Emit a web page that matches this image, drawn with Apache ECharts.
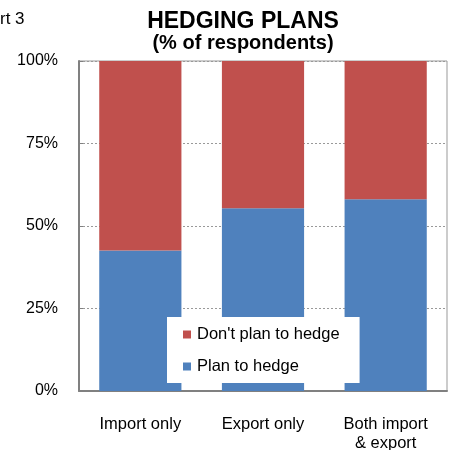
<!DOCTYPE html>
<html>
<head>
<meta charset="utf-8">
<script src="https://cdn.jsdelivr.net/npm/echarts@6/dist/echarts.min.js"></script>
<style>
  html, body { margin: 0; padding: 0; background: #fff; }
  #chart { width: 450px; height: 450px; }
</style>
</head>
<body>
<div id="chart"></div>
<script>
// Hedging plans by trader type, % of respondents
const categories = ['Import only', 'Export only', 'Both import\n& export'];
const planToHedge = [42.6, 55.4, 58.1];
const dontPlanToHedge = [57.4, 44.6, 41.9];
const yTicks = [0, 25, 50, 75, 100];

const font = 'Liberation Sans, Arial, sans-serif';

const chart = echarts.init(document.getElementById('chart'));
chart.setOption({
  animation: false,
  backgroundColor: '#ffffff',
  graphic: [
    { type: 'text', left: 0, top: 11, style: { text: 'rt 3', font: '17px ' + font, fill: '#000' } }
  ],
  title: {
    text: 'HEDGING PLANS',
    subtext: '(% of respondents)',
    left: 238,
    textAlign: 'center',
    top: 5,
    itemGap: 0,
    textStyle: { fontFamily: font, fontWeight: 'bold', fontSize: 23, color: '#000' },
    subtextStyle: { fontFamily: font, fontWeight: 'bold', fontSize: 20, color: '#000' }
  },
  legend: {
    orient: 'vertical',
    left: 167,
    top: 317,
    padding: [9, 20, 8, 16],
    backgroundColor: '#ffffff',
    itemWidth: 8,
    itemHeight: 8,
    itemGap: 15,
    icon: 'rect',
    data: ["Don't plan to hedge", 'Plan to hedge'],
    textStyle: { fontFamily: font, fontSize: 16.5, color: '#000', padding: [0, 0, 0, 1] }
  },
  grid: {
    left: 79, right: 3, top: 61, bottom: 59,
    outerBoundsMode: 'none',
    show: true, borderColor: '#999', borderWidth: 1
  },
  xAxis: {
    type: 'category',
    data: categories,
    axisLine: { lineStyle: { color: '#808080', width: 2 } },
    axisTick: { show: false },
    axisLabel: { fontFamily: font, fontSize: 16.5, color: '#000', margin: 24, lineHeight: 19 }
  },
  yAxis: {
    type: 'value',
    min: 0,
    max: 100,
    interval: 25,
    axisLine: { show: true, lineStyle: { color: '#808080', width: 2 } },
    axisTick: { show: true, inside: true, length: 4, lineStyle: { color: '#808080' } },
    axisLabel: {
      fontFamily: font, fontSize: 16, color: '#000', margin: 21,
      padding: [5, 0, 0, 0],
      formatter: v => (yTicks.includes(v) ? v + '%' : '')
    },
    splitLine: { show: true, lineStyle: { color: '#999', type: [2, 2], width: 1 } }
  },
  series: [
    {
      name: 'Plan to hedge',
      type: 'bar',
      stack: 'total',
      data: planToHedge,
      barWidth: '67%',
      itemStyle: { color: '#4F81BD' }
    },
    {
      name: "Don't plan to hedge",
      type: 'bar',
      stack: 'total',
      data: dontPlanToHedge,
      barWidth: '67%',
      itemStyle: { color: '#C0504D' }
    }
  ]
});
</script>
</body>
</html>
